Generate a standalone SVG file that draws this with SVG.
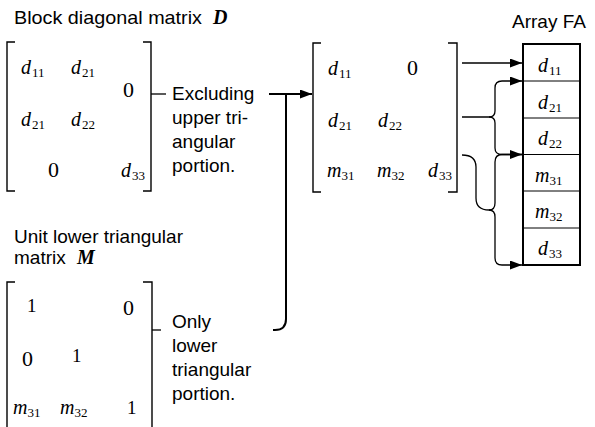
<svg xmlns="http://www.w3.org/2000/svg" width="595" height="427" viewBox="0 0 595 427">
<defs>
<marker id="ah" markerUnits="userSpaceOnUse" markerWidth="13" markerHeight="10" refX="12" refY="4.5" orient="auto">
<path d="M0,0 L12,4.5 L0,9 z" fill="#000"/>
</marker>
<style>
.lbl{font-family:"Liberation Sans",Arial,sans-serif;font-size:19px;fill:#000}
.bm{font-family:"Liberation Serif","Times New Roman",serif;font-size:20px;font-weight:bold;font-style:italic;fill:#000}
.v{font-family:"Liberation Serif","Times New Roman",serif;font-size:20px;font-style:italic;fill:#000}
.s{font-style:normal;font-size:13px}
.n{font-family:"Liberation Serif","Times New Roman",serif;font-size:22px;fill:#000}
.one{font-family:"Liberation Serif","Times New Roman",serif;font-size:19px;fill:#000}
.br{fill:none;stroke:#000;stroke-width:1.4}
.c{fill:none;stroke:#000;stroke-width:1.3}
.cb{fill:none;stroke:#000;stroke-width:2}
.cell{fill:none;stroke:#000;stroke-width:1}
</style>
</defs>

<g id="matrixD">
<text class="lbl" x="14" y="24" textLength="188" lengthAdjust="spacingAndGlyphs">Block diagonal matrix</text>
<text class="bm" x="213" y="24">D</text>
<path class="br" d="M15,42 H7 V191 H15 M143,42 H151 V191 H143"/>
<text class="v" x="21" y="74">d<tspan class="s" dx="1" dy="3">11</tspan></text>
<text class="v" x="71" y="74">d<tspan class="s" dx="1" dy="3">21</tspan></text>
<text class="n" x="123" y="97">0</text>
<text class="v" x="21" y="126">d<tspan class="s" dx="1" dy="3">21</tspan></text>
<text class="v" x="71" y="126">d<tspan class="s" dx="1" dy="3">22</tspan></text>
<text class="n" x="48" y="177">0</text>
<text class="v" x="121" y="177">d<tspan class="s" dx="1" dy="3">33</tspan></text>
</g>

<g id="labelExcluding">
<text class="lbl" x="172" y="100">Excluding</text>
<text class="lbl" x="172" y="124">upper tri-</text>
<text class="lbl" x="172" y="148">angular</text>
<text class="lbl" x="172" y="172">portion.</text>
</g>

<g id="matrixM">
<text class="lbl" x="14" y="243">Unit lower triangular</text>
<text class="lbl" x="14" y="264">matrix</text>
<text class="bm" x="77" y="264">M</text>
<path class="br" d="M15,282 H7 V427 M143,282 H152 V427"/>
<text class="one" x="27" y="312">1</text>
<text class="n" x="123" y="315">0</text>
<text class="n" x="22" y="366">0</text>
<text class="one" x="72" y="362">1</text>
<text class="v" x="13" y="414">m<tspan class="s" dy="3">31</tspan></text>
<text class="v" x="60" y="414">m<tspan class="s" dy="3">32</tspan></text>
<text class="one" x="127" y="414">1</text>
</g>

<g id="labelOnly">
<text class="lbl" x="172" y="328">Only</text>
<text class="lbl" x="172" y="352">lower</text>
<text class="lbl" x="172" y="376">triangular</text>
<text class="lbl" x="172" y="400">portion.</text>
</g>

<g id="matrixPacked">
<path class="br" d="M321,43 H313 V192 H321 M448,43 H457 V192 H448"/>
<text class="v" x="328" y="75">d<tspan class="s" dx="1" dy="3">11</tspan></text>
<text class="n" x="407" y="75">0</text>
<text class="v" x="328" y="127">d<tspan class="s" dx="1" dy="3">21</tspan></text>
<text class="v" x="378" y="127">d<tspan class="s" dx="1" dy="3">22</tspan></text>
<text class="v" x="327" y="177">m<tspan class="s" dy="3">31</tspan></text>
<text class="v" x="377" y="177">m<tspan class="s" dy="3">32</tspan></text>
<text class="v" x="428" y="177">d<tspan class="s" dx="1" dy="3">33</tspan></text>
</g>

<g id="arrayFA">
<text class="lbl" x="512" y="28">Array FA</text>
<path class="cell" d="M523,81 H580 M523,118 H580 M523,154.5 H580 M523,191 H580 M523,228 H580"/>
<rect x="523" y="44" width="57" height="221" fill="none" stroke="#000" stroke-width="2"/>
<text class="v" x="538" y="72">d<tspan class="s" dx="1" dy="3">11</tspan></text>
<text class="v" x="538" y="109">d<tspan class="s" dx="1" dy="3">21</tspan></text>
<text class="v" x="538" y="145">d<tspan class="s" dx="1" dy="3">22</tspan></text>
<text class="v" x="535" y="182">m<tspan class="s" dy="3">31</tspan></text>
<text class="v" x="535" y="218">m<tspan class="s" dy="3">32</tspan></text>
<text class="v" x="538" y="255">d<tspan class="s" dx="1" dy="3">33</tspan></text>
</g>

<g id="connectors">
<path class="c" d="M151,94 H166"/>
<path class="cb" d="M269,94 H312" marker-end="url(#ah)"/>
<path class="cb" d="M286,94 V319 Q286,330 275,330 H273"/>
<path class="c" d="M152,330 H161"/>
<path class="c" d="M462,63 H522" marker-end="url(#ah)"/>
<path class="c" d="M462,117 H489 Q495,117 495,111 V88 Q495,81 502,81 H522" marker-end="url(#ah)"/>
<path class="c" d="M489,117 Q495,117 495,123 V148 Q495,154.5 502,154.5 H522" marker-end="url(#ah)"/>
<path class="c" d="M462,155 Q476,155 476,167 V198 Q476,210 489,210"/>
<path class="c" d="M489,210 Q495,210 495,203 V162 Q495,154.5 502,154.5 H522"/>
<path class="c" d="M489,210 Q495,210 495,217 V258 Q495,265 502,265 H522" marker-end="url(#ah)"/>
</g>
</svg>
